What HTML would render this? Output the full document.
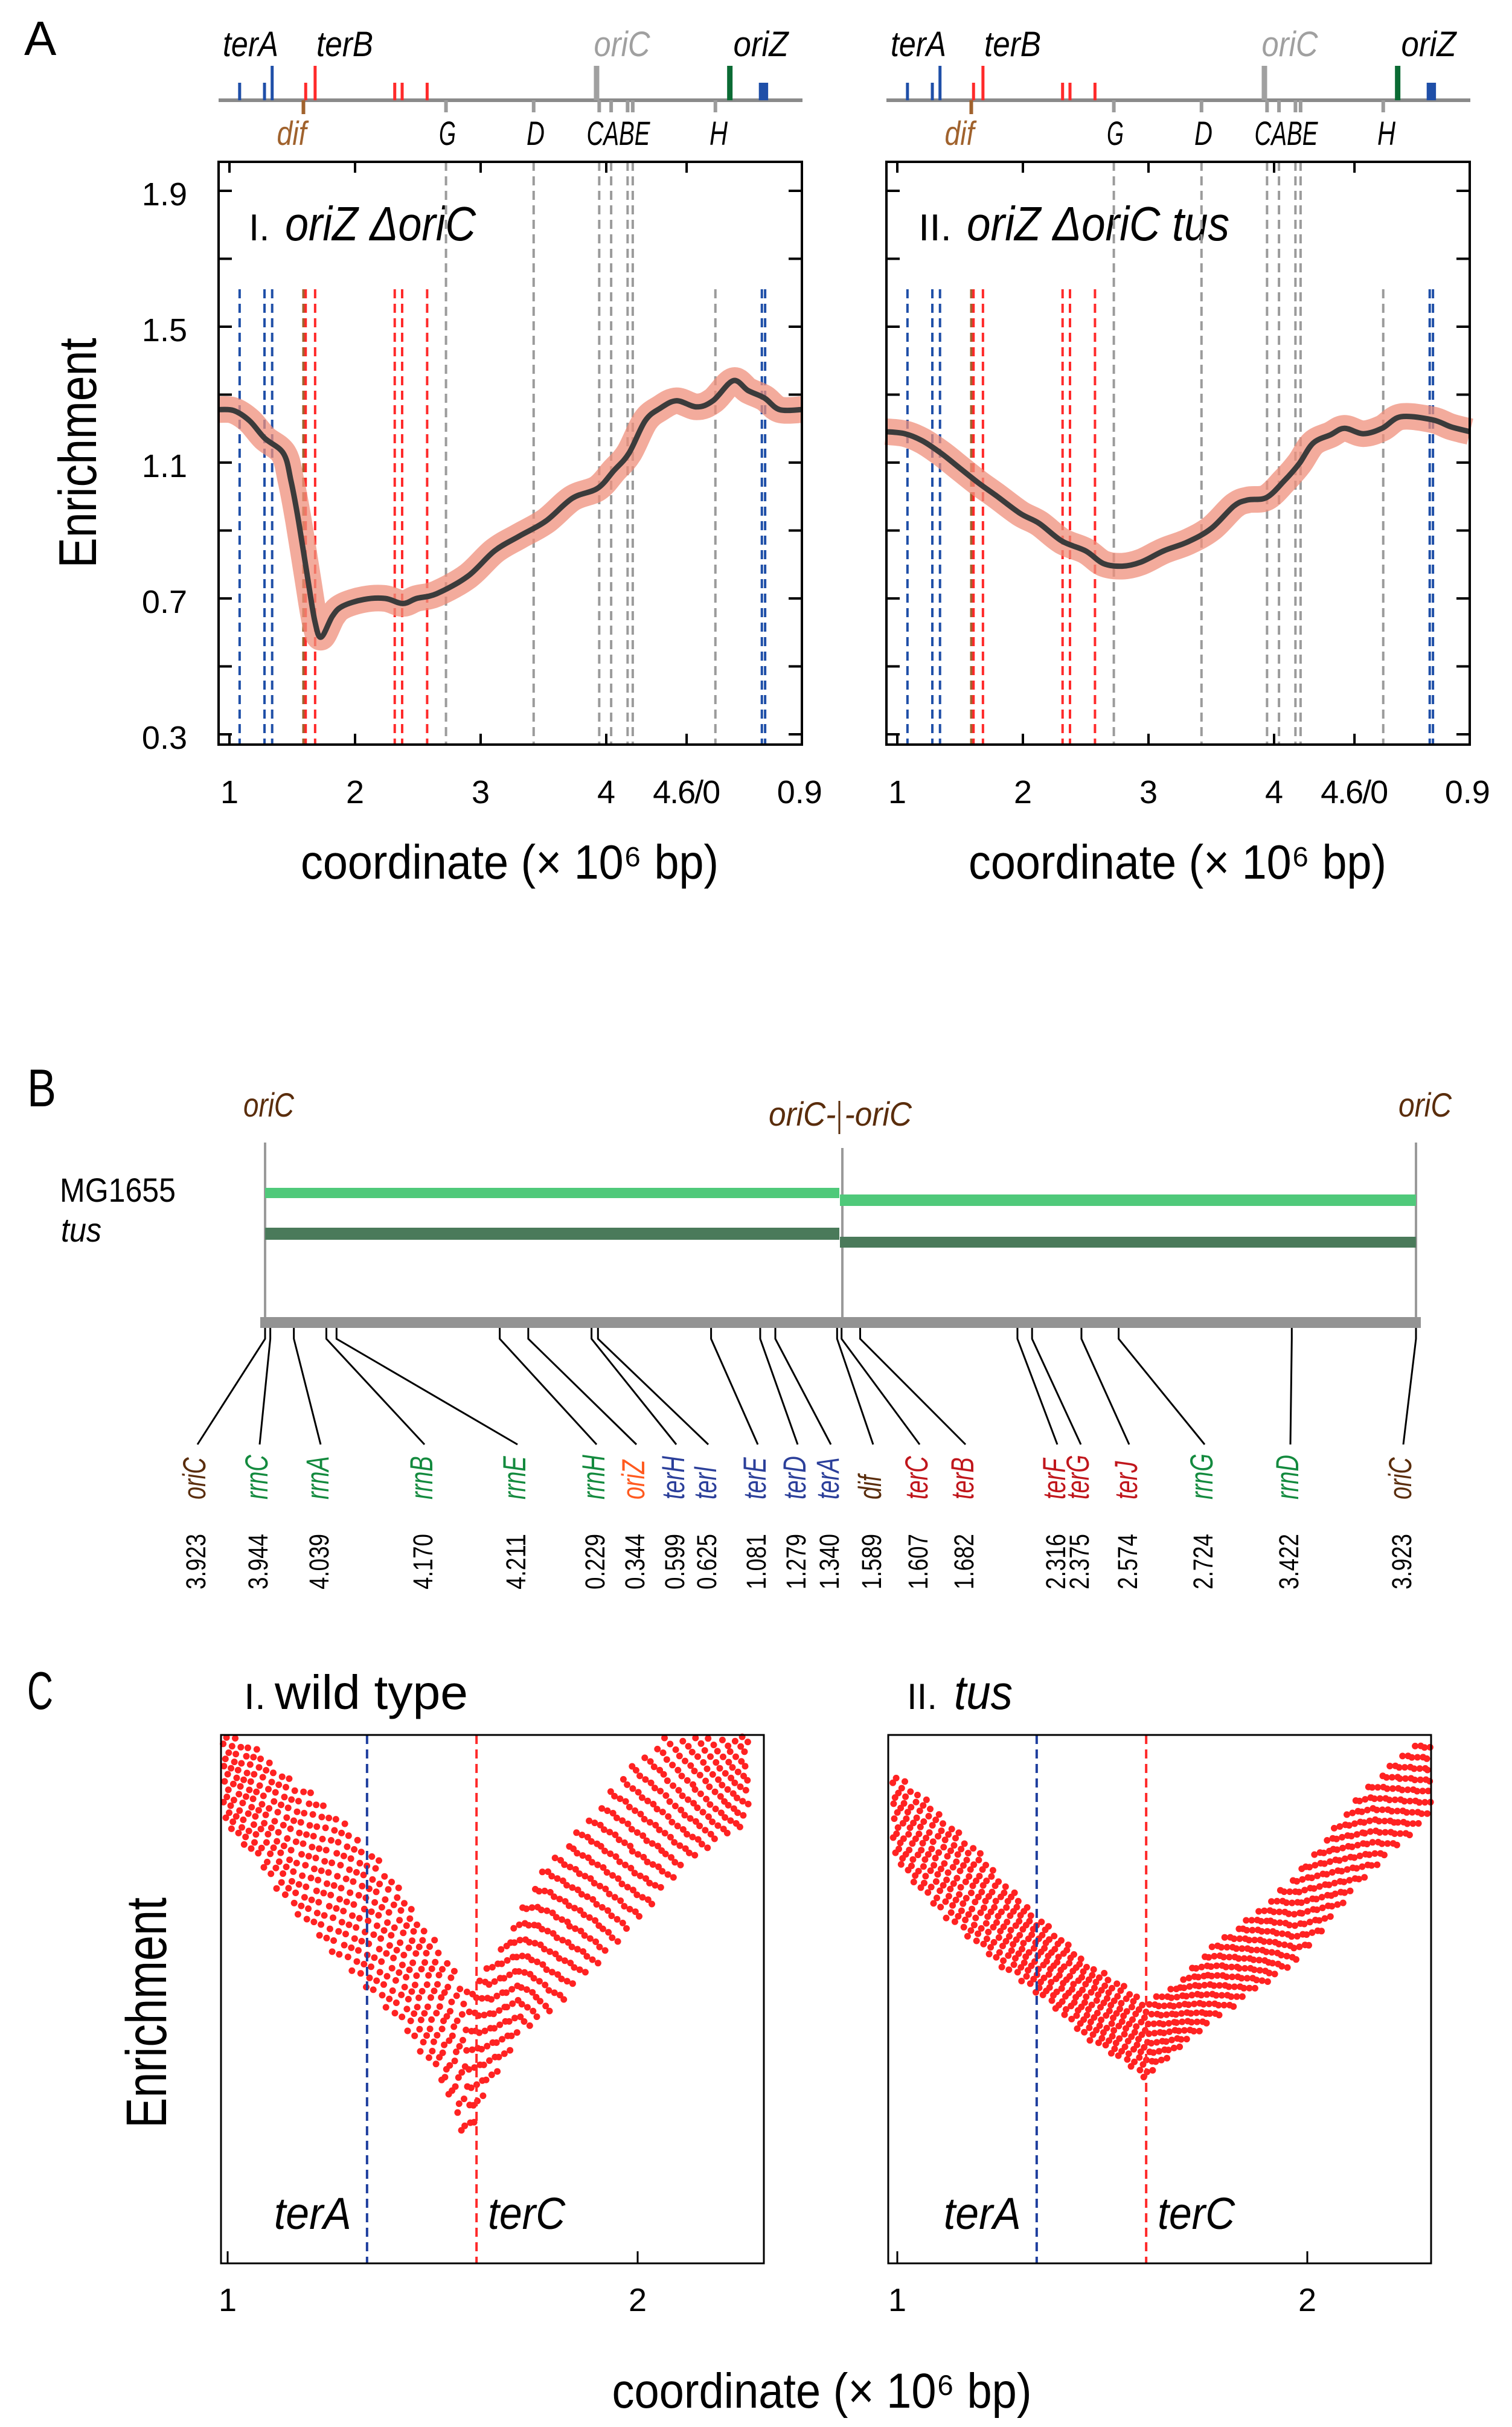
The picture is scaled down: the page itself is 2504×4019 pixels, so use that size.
<!DOCTYPE html>
<html><head><meta charset="utf-8">
<style>
html,body{margin:0;padding:0;background:#fff;}
svg{display:block;font-family:"Liberation Sans",sans-serif;}
</style></head>
<body>
<svg id="fig" xmlns="http://www.w3.org/2000/svg" width="2504" height="4019" viewBox="0 0 2504 4019">
<rect x="0" y="0" width="2504" height="4019" fill="#fff"/>
<!-- Panel letters -->
<text x="40" y="91" font-size="80">A</text>
<text x="45" y="1832" font-size="88" textLength="48" lengthAdjust="spacingAndGlyphs">B</text>
<text x="45" y="2830" font-size="88" textLength="43" lengthAdjust="spacingAndGlyphs">C</text>

<!-- Panel A y axis -->
<text transform="translate(159,750) rotate(-90)" text-anchor="middle" font-size="88" textLength="381" lengthAdjust="spacingAndGlyphs">Enrichment</text>
<!-- Panel A titles -->
<text x="412" y="398" font-size="62">I.</text>
<text x="472" y="398" font-size="80" font-style="italic" textLength="316" lengthAdjust="spacingAndGlyphs">oriZ ΔoriC</text>
<text x="1521" y="398" font-size="62" textLength="55" lengthAdjust="spacingAndGlyphs">II.</text>
<text x="1601" y="398" font-size="80" font-style="italic" textLength="435" lengthAdjust="spacingAndGlyphs">oriZ ΔoriC tus</text>
<text x="844" y="1455" text-anchor="middle" font-size="80" textLength="692" lengthAdjust="spacingAndGlyphs">coordinate (× 10⁶ bp)</text>
<text x="1950" y="1455" text-anchor="middle" font-size="80" textLength="692" lengthAdjust="spacingAndGlyphs">coordinate (× 10⁶ bp)</text>

<!-- Panel B static -->
<g>
<text x="403" y="1849" font-size="56" font-style="italic" fill="#5a2d0c" textLength="84" lengthAdjust="spacingAndGlyphs">oriC</text>
<text x="1273" y="1864" font-size="56" font-style="italic" fill="#5a2d0c" textLength="237" lengthAdjust="spacingAndGlyphs">oriC- -oriC</text>
<line x1="1390" y1="1823" x2="1390" y2="1878" stroke="#5a2d0c" stroke-width="3"/>
<text x="2316" y="1849" font-size="56" font-style="italic" fill="#5a2d0c" textLength="88" lengthAdjust="spacingAndGlyphs">oriC</text>
<line x1="439" y1="1892" x2="439" y2="2181" stroke="#9a9a9a" stroke-width="4"/>
<line x1="1395" y1="1901" x2="1395" y2="2181" stroke="#9a9a9a" stroke-width="4"/>
<line x1="2345" y1="1892" x2="2345" y2="2181" stroke="#9a9a9a" stroke-width="4"/>
<rect x="439" y="1967" width="951" height="17" fill="#4fc97a"/>
<rect x="1391" y="1978" width="954" height="19" fill="#4fc97a"/>
<rect x="439" y="2033" width="951" height="20" fill="#4a7a5a"/>
<rect x="1391" y="2048" width="954" height="18" fill="#4a7a5a"/>
<text x="99" y="1990" font-size="56" textLength="192" lengthAdjust="spacingAndGlyphs">MG1655</text>
<text x="101" y="2056" font-size="56" font-style="italic" textLength="67" lengthAdjust="spacingAndGlyphs">tus</text>
<rect x="431" y="2181" width="1922" height="18" fill="#939393"/>
</g>

<!-- Panel C static -->
<text x="404" y="2830" font-size="60" textLength="36" lengthAdjust="spacingAndGlyphs">I.</text>
<text x="455" y="2830" font-size="80" textLength="320" lengthAdjust="spacingAndGlyphs">wild type</text>
<text x="1502" y="2830" font-size="60" textLength="50" lengthAdjust="spacingAndGlyphs">II.</text>
<text x="1580" y="2830" font-size="80" font-style="italic" textLength="97" lengthAdjust="spacingAndGlyphs">tus</text>
<text transform="translate(275,3333) rotate(-90)" text-anchor="middle" font-size="95" textLength="382" lengthAdjust="spacingAndGlyphs">Enrichment</text>
<text x="1361" y="3987" text-anchor="middle" font-size="82" textLength="695" lengthAdjust="spacingAndGlyphs">coordinate (× 10⁶ bp)</text>

<g id="dyn"></g>
</svg>
<script>
// ---------- Panel A data ----------
const a1Shift = [-0.087,0.034,0.16,0.28,0.43,0.49,0.55,0.62,0.68,0.73,0.82,0.90,1.07,1.24,1.38,1.49,1.65,1.90,2.11,2.31,2.52,2.73,2.93,3.06,3.18,3.31,3.43,3.56,3.72,3.85,4.01,4.13,4.26,4.38,4.56];
const a1Enrich = [1.256,1.253,1.223,1.172,1.127,1.046,0.928,0.766,0.633,0.586,0.648,0.677,0.697,0.700,0.685,0.700,0.714,0.766,0.840,0.884,0.928,0.995,1.024,1.076,1.127,1.223,1.260,1.282,1.264,1.282,1.341,1.312,1.290,1.256,1.256];
const a2Shift = [-0.09,0.06,0.20,0.35,0.50,0.65,0.79,0.98,1.13,1.31,1.50,1.64,1.79,1.94,2.12,2.31,2.50,2.68,2.79,2.94,3.08,3.20,3.31,3.45,3.56,3.71,3.86,4.01,4.26,4.41,4.56];
const a2Enrich = [1.191,1.185,1.164,1.127,1.083,1.039,1.002,0.950,0.921,0.869,0.840,0.803,0.795,0.807,0.840,0.866,0.906,0.972,0.990,0.997,1.046,1.097,1.157,1.182,1.201,1.185,1.201,1.235,1.226,1.205,1.191];
const aYTicks = [0.3,0.5,0.7,0.9,1.1,1.3,1.5,1.7,1.9];
const aYLabels = ["0.3","0.7","1.1","1.5","1.9"];
const aXTickShift = [0,1,2,3,3.64,4.54];
const aXTickLabels = ["1","2","3","4","4.6/0","0.9"];
const featNames = ["terE","terD","terA","dif","terC","terB","terF","terG","terJ","rrnG","rrnD","oriC","rrnC","rrnA","rrnB","rrnE","rrnH","oriZ","terH","terI"];
const featPos = [1.081,1.279,1.340,1.589,1.607,1.682,2.316,2.375,2.574,2.724,3.422,3.923,3.944,4.039,4.170,4.211,0.229,0.344,0.599,0.625];
const featKind = ["bter","bter","bterT","dif","rter","rterT","rter","rter","rter","rrn","rrn","oriC","rrn","rrn","rrn","rrn","rrnH","oriZ","bterK","bterK"];

// ---------- Panel B data ----------
const bNames = ["oriC","rrnC","rrnA","rrnB","rrnE","rrnH","oriZ","terH","terI","terE","terD","terA","dif","terC","terB","terF","terG","terJ","rrnG","rrnD","oriC"];
const bPos = [3.923,3.944,4.039,4.170,4.211,0.229,0.344,0.599,0.625,1.081,1.279,1.340,1.589,1.607,1.682,2.316,2.375,2.574,2.724,3.422,3.923];
const bPosLabels = ["3.923","3.944","4.039","4.170","4.211","0.229","0.344","0.599","0.625","1.081","1.279","1.340","1.589","1.607","1.682","2.316","2.375","2.574","2.724","3.422","3.923"];
const bColors = ["#5a2d0c","#138a3e","#138a3e","#138a3e","#138a3e","#138a3e","#ff5a1f","#2b3f9a","#2b3f9a","#2b3f9a","#2b3f9a","#2b3f9a","#5a2d0c","#c0161c","#c0161c","#c0161c","#c0161c","#c0161c","#138a3e","#138a3e","#5a2d0c"];
const bLabelX = [327,430,531,703,857,988,1054,1120,1173,1255,1321,1376,1446,1523,1599,1751,1790,1870,1995,2137,2324];

// ---------- Panel C data ----------
const c1Pos = [0.99,1.07,1.16,1.26,1.36,1.45,1.52,1.58,1.64,1.71,1.78,1.87,1.97,2.06,2.15,2.27];
const c1Center = [0.92,0.87,0.79,0.72,0.64,0.55,0.47,0.37,0.45,0.55,0.61,0.69,0.775,0.85,0.90,0.93];
const c1Spread = [0.085,0.10,0.12,0.13,0.13,0.12,0.12,0.14,0.11,0.11,0.14,0.14,0.15,0.14,0.12,0.09];
const c2Pos = [0.99,1.07,1.17,1.26,1.36,1.45,1.54,1.61,1.68,1.78,1.87,1.97,2.06,2.16,2.30];
const c2Center = [0.85,0.785,0.71,0.64,0.573,0.506,0.458,0.42,0.468,0.535,0.59,0.65,0.737,0.83,0.93];
const c2Spread = [0.08,0.09,0.09,0.08,0.07,0.07,0.07,0.07,0.06,0.07,0.07,0.08,0.08,0.08,0.08];
const cTer = [1.340,1.607];
const cTerNames = ["terA","terC"];
const cXTicks = [1,2];

// ---------- helpers ----------
const NS = "http://www.w3.org/2000/svg";
const root = document.getElementById('dyn');
function mk(tag, attrs, parent){
  const el = document.createElementNS(NS, tag);
  for (const k in attrs) el.setAttribute(k, attrs[k]);
  (parent || root).appendChild(el);
  return el;
}
function smoothPath(pts){
  let d = "M" + pts[0][0].toFixed(1) + "," + pts[0][1].toFixed(1);
  for (let i=0;i<pts.length-1;i++){
    const p0 = pts[Math.max(0,i-1)], p1 = pts[i], p2 = pts[i+1], p3 = pts[Math.min(pts.length-1,i+2)];
    const c1x = p1[0]+(p2[0]-p0[0])/6, c1y = p1[1]+(p2[1]-p0[1])/6;
    const c2x = p2[0]-(p3[0]-p1[0])/6, c2y = p2[1]-(p3[1]-p1[1])/6;
    d += " C"+c1x.toFixed(1)+","+c1y.toFixed(1)+" "+c2x.toFixed(1)+","+c2y.toFixed(1)+" "+p2[0].toFixed(1)+","+p2[1].toFixed(1);
  }
  return d;
}

// ---------- Panel A ----------
const A_TOP = 268, A_BOT = 1233;
function aY(v){ return 316 + (1.9 - v) * 562.5; }
function aX(s, off){ return 380 + 208 * s + off; }
function toShift(p){ return p >= 0.95 ? p - 1 : p + 3.64; }
const colors = {blue:"#1f4fa8", red:"#ff2a2a", brown:"#a0622d", gray:"#9b9b9b", green:"#0b6b34"};
const topLabels = [["terA",415,"#000",92],["terB",571,"#000",94],["oriC",1030,"#a0a0a0",93],["oriZ",1260,"#000",91]];
const botLabels = [["dif",483,colors.brown,49],["G",741,"#000",28],["D",887,"#000",30],["CABE",1024,"#000",105],["H",1190,"#000",30]];

function drawA(off, shift, enrich, tag){
  const g = mk('g', {});
  
  
  const gl = mk('line', {x1:362+off, y1:166, x2:1329+off, y2:166, stroke:"#8a8a8a", "stroke-width":6}, g);
  
  
  for (let i=0;i<featPos.length;i++){
    const x = aX(toShift(featPos[i]), off), k = featKind[i];
    let col, y1, y2, w, dash = null, dTop = 479;
    if (k.startsWith("bter")){ col = colors.blue; y1 = k==="bterT"?109:137; y2 = 166; w = k==="bterK"?10:5; dash = true; }
    else if (k.startsWith("rter")){ col = colors.red; y1 = k==="rterT"?109:137; y2 = 166; w = 5; dash = true; }
    else if (k==="dif"){ col = colors.brown; y1 = 166; y2 = 189; w = 6; dash = true; }
    else if (k==="oriC"){ col = "#a0a0a0"; y1 = 109; y2 = 166; w = 9; }
    else if (k==="oriZ"){ col = colors.green; y1 = 109; y2 = 166; w = 9; }
    else { col = colors.gray; y1 = 166; y2 = 186; w = 6; dash = true; dTop = (k==="rrnH") ? 479 : A_TOP; }
    const m = mk('line', {x1:x, y1:y1, x2:x, y2:y2, stroke:col, "stroke-width":w}, g);
    
    
    if (dash){
      const dl = mk('line', {x1:x, y1:dTop, x2:x, y2:A_BOT, stroke:col, "stroke-width": 4, "stroke-dasharray":"15 9"}, g);
      
      
    }
  }
  for (const L of topLabels){
    const t = mk('text', {x:L[1]+off, y:93, "text-anchor":"middle", "font-size":58, "font-style":"italic", fill:L[2], textLength:L[3], lengthAdjust:"spacingAndGlyphs"}, g);
    t.textContent = L[0];
    
    
  }
  for (const L of botLabels){
    const t = mk('text', {x:L[1]+off, y:240, "text-anchor":"middle", "font-size":56, "font-style":"italic", fill:L[2], textLength:L[3], lengthAdjust:"spacingAndGlyphs"}, g);
    t.textContent = L[0];
    
    
  }
  const pts = shift.map((s,i)=>[aX(s,off), aY(enrich[i])]);
  const d = smoothPath(pts);
  const band = mk('path', {d:d, fill:"none", stroke:"#ef8f7b", "stroke-width":44, "stroke-linejoin":"round", opacity:0.75}, g);
  
  
  const ln = mk('path', {d:d, fill:"none", stroke:"#3b3b3b", "stroke-width":9, "stroke-linejoin":"round"}, g);
  
  
  const cl1 = mk('rect', {x:off+300, y:A_BOT+2, width:1060, height:40, fill:"#fff"}, g);
  
  
  const fr = mk('rect', {x:362+off, y:A_TOP, width:966, height:A_BOT-A_TOP, fill:"none", stroke:"#000", "stroke-width":4}, g);
  
  
  for (const v of aYTicks){
    const y = aY(v);
    const t1 = mk('line', {x1:362+off, y1:y, x2:384+off, y2:y, stroke:"#000", "stroke-width":4}, g);
    
    
    const t2 = mk('line', {x1:1306+off, y1:y, x2:1328+off, y2:y, stroke:"#000", "stroke-width":4}, g);
    
    
  }
  if (off === 0){
    for (const s of aYLabels){
      const t = mk('text', {x:310, y:aY(parseFloat(s))+24, "text-anchor":"end", "font-size":54}, g);
      t.textContent = s;
      
      
    }
  }
  for (let i=0;i<aXTickShift.length;i++){
    const x = aX(aXTickShift[i], off);
    if (i < aXTickShift.length-1){
      const tb = mk('line', {x1:x, y1:A_BOT, x2:x, y2:A_BOT-18, stroke:"#000", "stroke-width":4}, g);
      
      
      const tt = mk('line', {x1:x, y1:A_TOP, x2:x, y2:A_TOP+18, stroke:"#000", "stroke-width":4}, g);
      
      
    }
    const tl = mk('text', {x:x, y:1330, "text-anchor":"middle", "font-size":54}, g);
    if (aXTickLabels[i]==="4.6/0") tl.setAttribute('textLength', 112);
    tl.textContent = aXTickLabels[i];
    
    
  }
}
drawA(0, a1Shift, a1Enrich, 'a1');
drawA(1106, a2Shift, a2Enrich, 'a2');

// ---------- Panel B ----------
function bX(p){ let r = p - 3.923; if (r < -0.001) r += 4.64; if (r > 4.64) r -= 4.64; return 439 + 410.8 * r; }
for (let i=0;i<bPos.length;i++){
  const tx = (i === bPos.length-1) ? 2345 : bX(bPos[i]);
  const lx = bLabelX[i];
  const c = mk('polyline', {points: tx+",2199 "+tx+",2217 "+lx+",2392", fill:"none", stroke:"#000", "stroke-width":3});
  
  
  const t = mk('text', {transform:"translate("+(lx+13)+",2483) rotate(-90) scale(1,1.4)", "font-size":38, "font-style":"italic", fill:bColors[i]});
  t.textContent = bNames[i];
  
  
  const n = mk('text', {transform:"translate("+(lx+13)+",2632) rotate(-90) scale(1,1.25)", "font-size":36, fill:"#000", textLength:92, lengthAdjust:"spacingAndGlyphs"});
  n.textContent = bPosLabels[i];
  
  
}

// ---------- Panel C ----------
const C_TOP = 2873, C_BOT = 3748;
function cY(v){ return C_TOP + (1 - v) * 875; }
function drawC(left, x1mb, pos, center, spread, tag){
  const g = mk('g', {});
  
  
  const cx = p => x1mb + (p - 1) * 679;
  let k = 0;
  for (let p = pos[0]; p <= pos[pos.length-1]; p += 0.0045){
    let j = 0; while (j < pos.length-2 && p > pos[j+1]) j++;
    const f = (p - pos[j]) / (pos[j+1] - pos[j]);
    const c = center[j] + f * (center[j+1] - center[j]);
    const s = spread[j] + f * (spread[j+1] - spread[j]);
    for (let r=0;r<3;r++){
      k++;
      // low-discrepancy placement within the band (layout, not data)
      const u = ((k * 0.6180339887) % 1) * 2 - 1;
      const dx = (((k * 0.7548776662) % 1) - 0.5) * 0.004;
      const v = c + u * s * 1.05;
      const y = cY(v);
      if (y < C_TOP + 3 || y > C_BOT - 3) continue;
      const dot = mk('circle', {cx:cx(p+dx).toFixed(1), cy:y.toFixed(1), r:5.5, fill:"#ff2222"}, g);
      
      
    }
  }
  const cols = ["#1f3f9f","#ff2a2a"];
  for (let i=0;i<cTer.length;i++){
    const x = cx(cTer[i]);
    const l = mk('line', {x1:x, y1:C_TOP, x2:x, y2:C_BOT, stroke:cols[i], "stroke-width":4, "stroke-dasharray":"15 9"}, g);
    
    
  }
  const ta = mk('text', {x:cx(cTer[0])-26, y:3691, "text-anchor":"end", "font-size":74, "font-style":"italic", textLength:128, lengthAdjust:"spacingAndGlyphs"}, g);
  ta.textContent = cTerNames[0];
  
  
  const tc = mk('text', {x:cx(cTer[1])+19, y:3691, "font-size":74, "font-style":"italic", textLength:128, lengthAdjust:"spacingAndGlyphs"}, g);
  tc.textContent = cTerNames[1];
  
  
  const fr = mk('rect', {x:left, y:C_TOP, width:899, height:C_BOT-C_TOP, fill:"none", stroke:"#000", "stroke-width":3}, g);
  
  
  for (const t of cXTicks){
    const x = cx(t);
    const tk = mk('line', {x1:x, y1:C_BOT, x2:x, y2:C_BOT-20, stroke:"#000", "stroke-width":3}, g);
    
    
    const tl = mk('text', {x:x, y:3827, "text-anchor":"middle", "font-size":54}, g);
    tl.textContent = String(t);
    
    
  }
}
drawC(366, 377, c1Pos, c1Center, c1Spread, 'c1');
drawC(1471, 1486, c2Pos, c2Center, c2Spread, 'c2');
</script>
</body></html>
